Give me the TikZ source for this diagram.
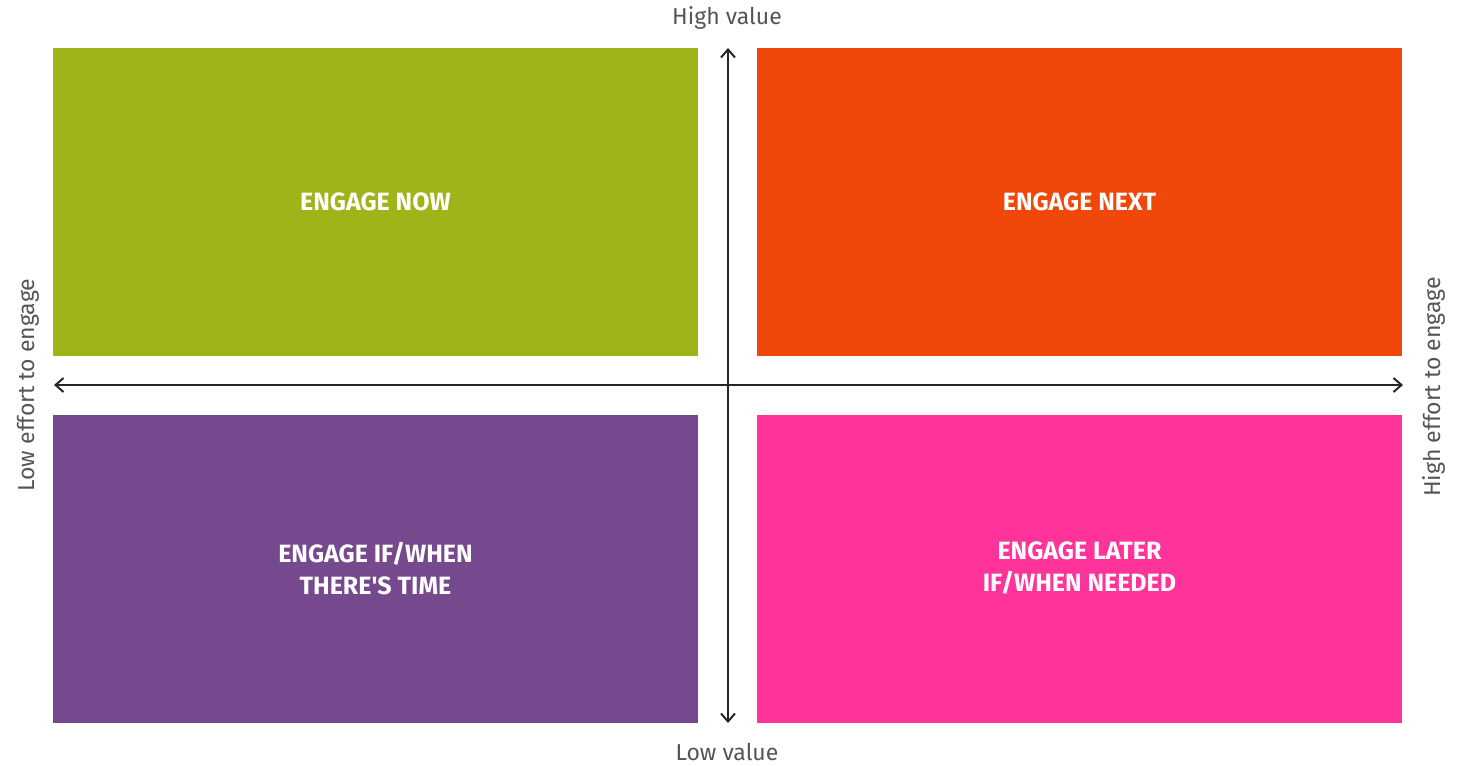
\documentclass[tikz,border=0pt]{standalone}
\usepackage{fontspec}
\setmainfont{Fira Sans}
\usetikzlibrary{arrows.meta}
\pgfdeclarelayer{edgelayer}
\pgfdeclarelayer{nodelayer}
\pgfsetlayers{edgelayer,nodelayer,main}
\definecolor{nowgreen}{HTML}{A0B41A}
\definecolor{nextorange}{HTML}{F0480A}
\definecolor{timepurple}{HTML}{76488E}
\definecolor{laterpink}{HTML}{FF3399}
\definecolor{axisgray}{HTML}{555555}
\tikzstyle{none}=[inner sep=0pt]
\tikzstyle{axis}=[draw=black!85, line width=1pt, {Straight Barb[length=4pt,width=7pt]}-{Straight Barb[length=4pt,width=7pt]}]
\tikzstyle{quadrant}=[rectangle, inner sep=0pt, minimum width=322.5pt, minimum height=154pt, align=center, text=white, font=\fontsize{12.5}{16}\selectfont\bfseries]
\tikzstyle{axislabel}=[inner sep=0pt, text=axisgray, font=\fontsize{11.5}{13}\selectfont]

\begin{document}
\begin{tikzpicture}[x=0.5pt, y=-0.5pt]
			\useasboundingbox (0, 0) rectangle (1464, 766);
			\begin{pgfonlayer}{nodelayer}
			\node [style=quadrant, fill=nowgreen] (0) at (375.5, 202) {ENGAGE NOW};
			\node [style=quadrant, fill=nextorange] (1) at (1079.5, 202) {ENGAGE NEXT};
			\node [style=quadrant, fill=timepurple] (2) at (375.5, 568.5) {ENGAGE IF/WHEN\\THERE\textquotesingle S TIME};
			\node [style=quadrant, fill=laterpink] (3) at (1079.5, 568.5) {ENGAGE LATER\\IF/WHEN NEEDED};
			\node [style=none] (4) at (728, 48) {};
			\node [style=none] (5) at (728, 723) {};
			\node [style=none] (6) at (54, 385) {};
			\node [style=none] (7) at (1403, 385) {};
			\node [style=axislabel] (8) at (727, 18) {High value};
			\node [style=axislabel] (9) at (727, 752) {Low value};
			\node [style=axislabel, rotate=90] (10) at (28, 385) {Low effort to engage};
			\node [style=axislabel, rotate=90] (11) at (1434, 387) {High effort to engage};
			\end{pgfonlayer}
			\begin{pgfonlayer}{edgelayer}
			\draw [style=axis] (5.center) to (4.center);
			\draw [style=axis] (6.center) to (7.center);
			\end{pgfonlayer}
\end{tikzpicture}
\end{document}
